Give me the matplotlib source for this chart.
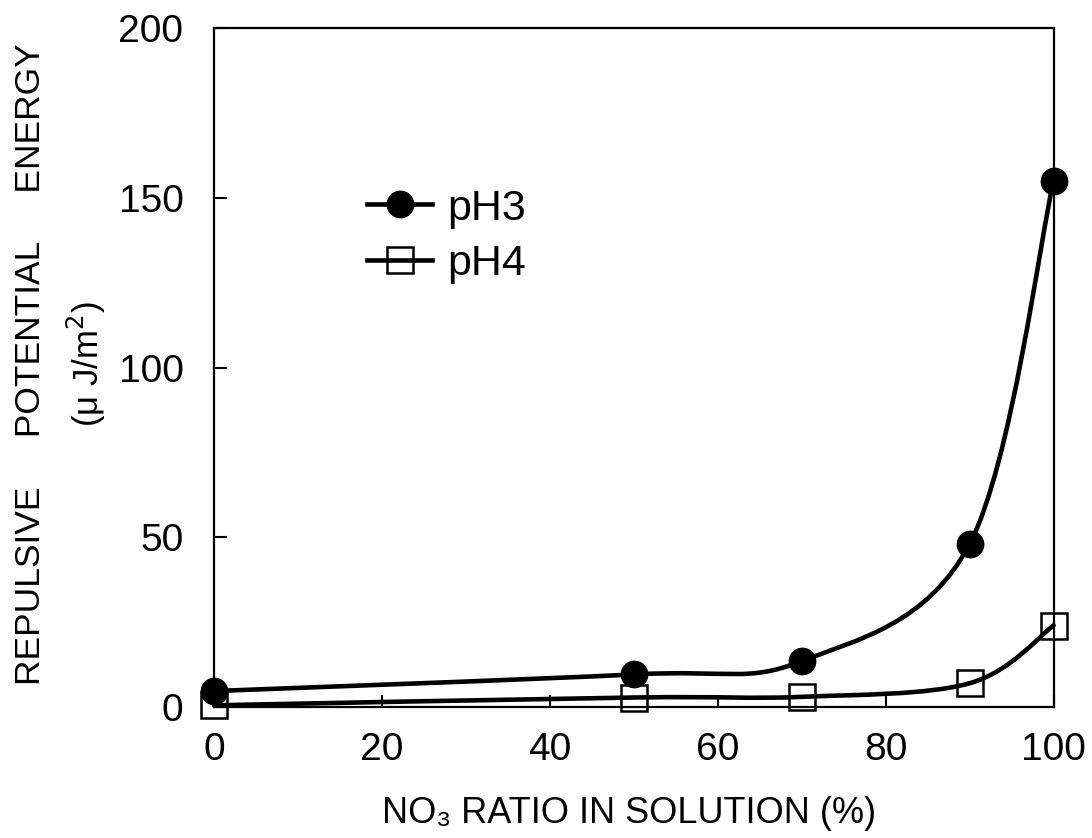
import numpy as np
import matplotlib
matplotlib.use("Agg")
import matplotlib.pyplot as plt
from matplotlib.path import Path
from matplotlib.patches import PathPatch
from matplotlib.lines import Line2D

plt.rcParams['font.family'] = ['Liberation Sans', 'DejaVu Sans']

#%% Data.
no3_ratio = [0, 50, 70, 90, 100]
ph3_energy = [4.7, 9.6, 13.5, 48, 155]
ph4_energy = [0.5, 2.8, 3.0, 7.0, 24]
x_ticks = [0, 20, 40, 60, 80, 100]
y_ticks = [0, 50, 100, 150, 200]


#%% Smoothed line like a spreadsheet chart (Catmull-Rom as bezier segments).
def smooth_path(xs, ys):
    pts = np.column_stack([xs, ys]).astype(float)
    n = len(pts)
    verts = [pts[0]]
    codes = [Path.MOVETO]
    for i in range(n - 1):
        p0 = pts[i - 1] if i > 0 else pts[i]
        p1 = pts[i]
        p2 = pts[i + 1]
        p3 = pts[i + 2] if i + 2 < n else pts[i + 1]
        c1 = p1 + (p2 - p0) / 6.0
        c2 = p2 - (p3 - p1) / 6.0
        verts += [c1, c2, p2]
        codes += [Path.CURVE4] * 3
    return Path(verts, codes)


fig = plt.figure(figsize=(10.92, 8.38), dpi=100)
ax = fig.add_axes([0.196, 0.1563, 0.7688, 0.8103])

lw = 3.3
ms = 19
for ys in [ph3_energy, ph4_energy]:
    ax.add_patch(PathPatch(smooth_path(no3_ratio, ys), facecolor='none',
                           edgecolor='black', lw=lw, capstyle='round',
                           joinstyle='round', clip_on=False, zorder=2))

ax.plot(no3_ratio, ph3_energy, linestyle='none', marker='o', markersize=ms,
        color='black', clip_on=False, zorder=3)
ax.plot(no3_ratio, ph4_energy, linestyle='none', marker='s', markersize=ms,
        markerfacecolor='none', markeredgecolor='black', markeredgewidth=1.8,
        clip_on=False, zorder=3)

ax.set_xlim(0, 100)
ax.set_ylim(0, 200)
ax.set_xticks(x_ticks)
ax.set_yticks(y_ticks)
ax.tick_params(direction='in', length=9, width=1.5, labelsize=28)
ax.tick_params(axis='x', pad=18)
ax.tick_params(axis='y', pad=22)
for s in ax.spines.values():
    s.set_linewidth(1.6)

# Legend
handles = [
    Line2D([], [], color='black', lw=lw, marker='o', markersize=ms),
    Line2D([], [], color='black', lw=lw, marker='s', markersize=ms,
           markerfacecolor='none', markeredgewidth=1.8),
]
ax.legend(handles, ['pH3', 'pH4'], loc='center left',
          bbox_to_anchor=(0.301, 0.718), bbox_transform=fig.transFigure,
          frameon=False, fontsize=31, handlelength=1.5, handletextpad=0.35,
          labelspacing=0.36)

# Axis labels
fig.text(0.576, 0.029, 'NO\u2083 RATIO IN SOLUTION (%)', ha='center', va='center',
         fontsize=26)
fig.text(0.028, 0.565, 'REPULSIVE     POTENTIAL     ENERGY', rotation=90,
         ha='center', va='center', fontsize=25.5)
fig.text(0.079, 0.565, '(\u03bc J/m$^2$)', rotation=90, ha='center', va='center',
         fontsize=25)

fig.savefig('out.png', dpi=100)
